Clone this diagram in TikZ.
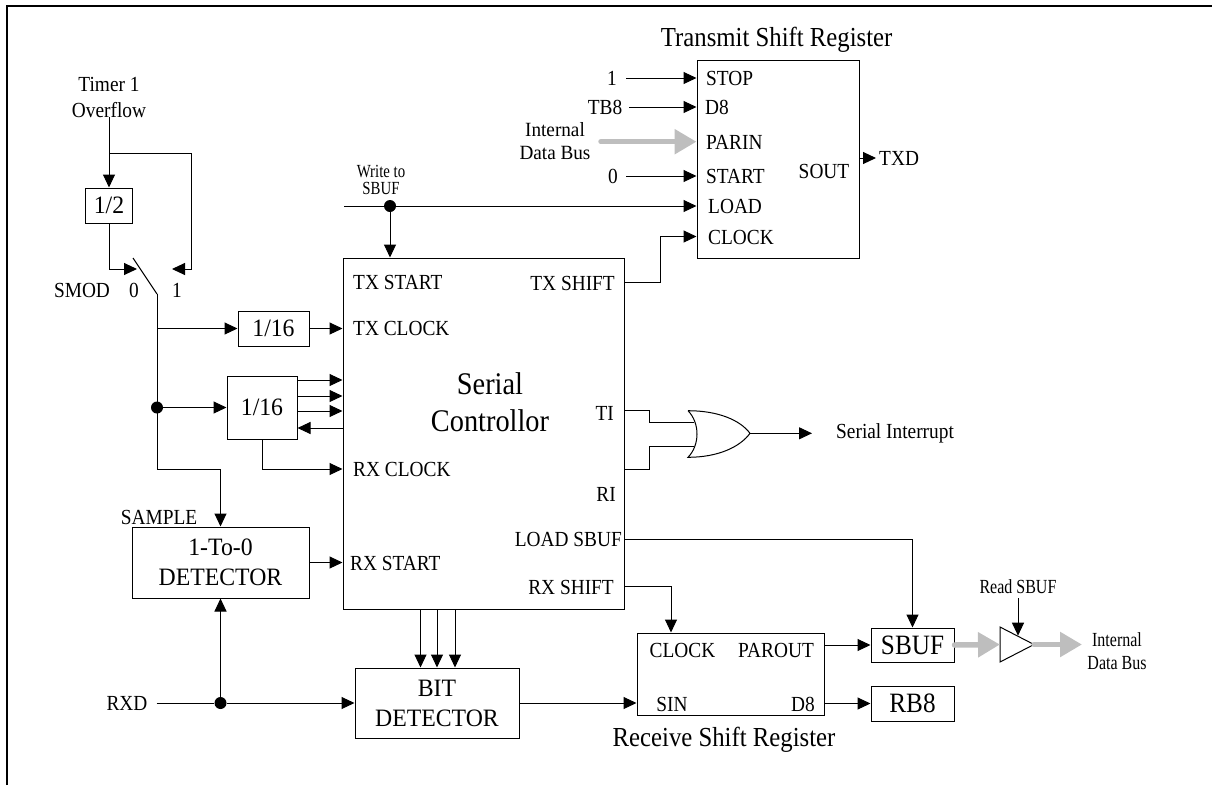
\documentclass[tikz,border=0pt]{standalone}
\usepackage{fontspec}
\setmainfont{Liberation Serif}
\newfontfamily\fsA[FakeStretch=0.75]{Liberation Serif}
\newfontfamily\fsB[FakeStretch=0.8]{Liberation Serif}
\newfontfamily\fsC[FakeStretch=0.9]{Liberation Serif}
\newfontfamily\fsD[FakeStretch=0.95]{Liberation Serif}
\usetikzlibrary{arrows.meta,calc}
\definecolor{busgray}{RGB}{190,190,190}
\tikzset{
  wire/.style={line width=1pt},
  arr/.style={line width=1pt,-{Triangle[length=13pt,width=12pt]}},
  box/.style={draw,line width=1pt,inner sep=0pt,font=\fsD\fontsize{25}{30}\selectfont,align=center},
  bigbox/.style={box,font=\fsC\fontsize{28}{30}\selectfont},
  lbl/.style={inner sep=0pt,font=\fsC\fontsize{21.5}{23}\selectfont},
  small/.style={inner sep=0pt,font=\fsB\fontsize{20}{23}\selectfont,align=center},
  title/.style={inner sep=0pt,font=\fsC\fontsize{27.5}{30}\selectfont},
  dot/.style={circle,fill,inner sep=0pt,minimum size=12pt},
  bus/.style={draw=busgray,line width=5.5pt,line cap=round,-{Triangle[length=22pt,width=24pt]}},
}
\begin{document}
\begin{tikzpicture}[x=1pt,y=-1pt]
\useasboundingbox (0,0) rectangle (1212,785);
\draw[line width=2.2pt] (7,785) -- (7,6) -- (1212,6);

% boxes
\node[box,minimum width=47pt,minimum height=35pt] (half) at (109,205.5) {1/2};
\node[box,minimum width=71pt,minimum height=35pt] (tx16) at (273.5,328.5) {1/16};
\node[box,minimum width=70pt,minimum height=63pt] (rx16) at (262,407.5) {1/16};
\node[box,minimum width=177pt,minimum height=71pt] (det) at (220.5,562.5) {1-To-0\\DETECTOR};
\node[box,minimum width=281pt,minimum height=351.5pt] (sc) at (483.5,433.75) {};
\node[box,minimum width=162pt,minimum height=198pt] (tsr) at (778,159) {};
\node[box,minimum width=164pt,minimum height=70pt] (bit) at (437,703) {BIT\\DETECTOR};
\node[box,minimum width=187.5pt,minimum height=82pt] (rsr) at (730.75,674) {};
\node[bigbox,minimum width=83pt,minimum height=34pt] (sbuf) at (912.5,645) {SBUF};
\node[bigbox,minimum width=83pt,minimum height=35pt] (rb8) at (912.5,703.5) {RB8};

% serial controller labels
\node[inner sep=0pt,font=\fsC\fontsize{31.5}{36.7}\selectfont,align=center] (sctitle) at (490,402) {Serial\\Controllor};
\node[lbl,anchor=west] (txstart) at (353,282) {TX START};
\node[lbl,anchor=west] (txclock) at (353,328.5) {TX CLOCK};
\node[lbl,anchor=west] (rxclock) at (353,469) {RX CLOCK};
\node[lbl,anchor=west] (rxstart) at (350,563) {RX START};
\node[lbl,anchor=east] (txshift) at (615,283) {TX SHIFT};
\node[lbl,anchor=east] (ti) at (614,413) {TI};
\node[lbl,anchor=east] (ri) at (616,494) {RI};
\node[lbl,anchor=east] (loadsbuf) at (622,539) {LOAD SBUF};
\node[lbl,anchor=east] (rxshift) at (614,587) {RX SHIFT};

% timer and switch
\node[lbl,align=center,font=\fsC\fontsize{21.5}{26}\selectfont] (timer) at (109,97) {Timer 1\\Overflow};
\draw[arr] (timer.south) -- (half.north);
\coordinate (br) at (109,153);
\coordinate (sw1) at (172,269);
\coordinate (sw0) at (137,269);
\draw[arr] (br) -| (191,269) -- (sw1);
\draw[arr] (half.south) |- (sw0);
\node[lbl] (smod) at (82,290) {SMOD};
\node[lbl] (s0) at (134,290) {0};
\node[lbl] (s1) at (177,290) {1};
\coordinate (swtop) at (133,258);
\coordinate (swc) at (157,294);
\draw[wire] (swtop) -- (swc);
\coordinate (samp) at (220.5,469);
\draw[arr] (swc) |- (samp) -- (det.north);
\node[lbl] (sample) at (159,517) {SAMPLE};
\coordinate (j1) at (157,328.5);
\draw[arr] (j1) -- (tx16.west);
\node[dot] (d1) at (157,407.5) {};
\draw[arr] (d1) -- (rx16.west);
\draw[arr] (tx16.east) -- (tx16.east -| sc.west);
\foreach \dy in {-27.5,-11.5,3.5}
  \draw[arr] ($(rx16.east)+(0,\dy)$) -- ($(rx16.east -| sc.west)+(0,\dy)$);
\draw[arr] ($(rx16.east -| sc.west)+(0,20.5)$) -- ($(rx16.east)+(0,20.5)$);
\draw[arr] (rx16.south) |- (sc.west |- rxclock);
\draw[arr] (det.east) -- (det.east -| sc.west);

% RXD
\node[lbl] (rxd) at (127,703) {RXD};
\node[dot] (d2) at (220.5,703) {};
\draw[wire] ([xshift=9pt]rxd.east) -- (d2);
\draw[arr] (d2) -- (bit.west);
\draw[arr] (d2) -- (det.south);
\foreach \dx in {-16.5,0,18}
  \draw[arr] ($(bit.north |- sc.south)+(\dx,0)$) -- ($(bit.north)+(\dx,0)$);
\draw[arr] (bit.east) -- (bit.east -| rsr.west);

% transmit shift register
\node[title,anchor=base] (tsrt) at (776.7,46.7) {Transmit Shift Register};
\node[lbl,anchor=west] (stop) at (706,78) {STOP};
\node[lbl,anchor=west] (d8t) at (705,107) {D8};
\node[lbl,anchor=west] (parin) at (706,142) {PARIN};
\node[lbl,anchor=west] (startl) at (706,176) {START};
\node[lbl,anchor=west] (load) at (708,206) {LOAD};
\node[lbl,anchor=west] (clockt) at (708,237) {CLOCK};
\node[lbl] (sout) at (824,171) {SOUT};
\node[lbl] (one) at (612,78) {1};
\node[lbl] (tb8) at (605,107) {TB8};
\node[inner sep=0pt,font=\fsD\fontsize{20.2}{23}\selectfont,align=center] (idb1) at (555,141.5) {Internal\\Data Bus};
\node[lbl] (zero) at (613,176) {0};
\draw[arr] ([xshift=9pt]one.east) -- (tsr.west |- one);
\draw[arr] ([xshift=7pt]tb8.east) -- (tsr.west |- tb8);
\draw[bus] (601,141.7) -- (tsr.west |- 0,141.7);
\draw[arr] ([xshift=8pt]zero.east) -- (tsr.west |- zero);
\coordinate (wl) at (344,206);
\node[dot] (d3) at (390,206) {};
\node[inner sep=0pt,font=\fsB\fontsize{18.5}{17}\selectfont,align=center] (wsbuf) at (381,180) {Write to\\SBUF};
\draw[wire] (wl) -- (d3);
\draw[arr] (d3) -- (tsr.west |- d3);
\draw[arr] (d3) -- (d3 |- sc.north);
\draw[arr] (sc.east |- 0,282) -- (660,282) -- (660,236.5) -- (tsr.west |- 0,236.5);
\node[lbl,anchor=west] (txd) at (879,158) {TXD};
\draw[arr] (tsr.east |- txd) -- ([xshift=-3pt]txd.west);

% OR gate
\coordinate (orA) at (694,422.3);
\coordinate (orB) at (694,446);
\coordinate (orout) at (750,433.3);
\draw[wire] (sc.east |- 0,410.7) -- (649,410.7) -- (649,422.3) -- (orA);
\draw[wire] (sc.east |- 0,469) -- (649,469) -- (649,446) -- (orB);
\draw[wire,fill=white] (688,410.7) .. controls (718,410.7) and (740,420) .. (orout)
  .. controls (740,447) and (718,457.3) .. (688,457.3)
  .. controls (700,445) and (700,423) .. (688,410.7);
\node[lbl,anchor=west] (sint) at (836,433.3) {Serial Interrupt};
\draw[arr] (orout) -- ([xshift=-24pt]sint.west);

% receive side
\draw[arr] (sc.east |- loadsbuf) -| (sbuf.north);
\draw[arr] (sc.east |- 0,586.5) -| (rsr.north -| 671,0);
\node[lbl] (rclock) at (682.5,650.7) {CLOCK};
\node[lbl] (parout) at (776,650.7) {PAROUT};
\node[lbl] (sin) at (672,704) {SIN};
\node[lbl] (d8r) at (803,704) {D8};
\node[title,anchor=base] (rsrt) at (724,746) {Receive Shift Register};
\draw[arr] (rsr.east |- sbuf) -- (sbuf.west);
\draw[arr] (rsr.east |- rb8) -- (rb8.west);

% buffer
\coordinate (bufin) at (1000,644.5);
\coordinate (bufout) at (1034,644.5);
\coordinate (bufctl) at (1018,635.7);
\draw[wire] (1000,627) -- (bufout) -- (1000,662) -- cycle;
\draw[bus] (sbuf.east) -- (bufin);
\draw[bus] (bufout) -- (1082,644.5);
\node[small] (rd) at (1018,587) {Read SBUF};
\draw[arr] ([yshift=-4pt]rd.south) -- (bufctl);
\node[small] (idb2) at (1117,651.5) {Internal\\Data Bus};
\end{tikzpicture}
\end{document}
